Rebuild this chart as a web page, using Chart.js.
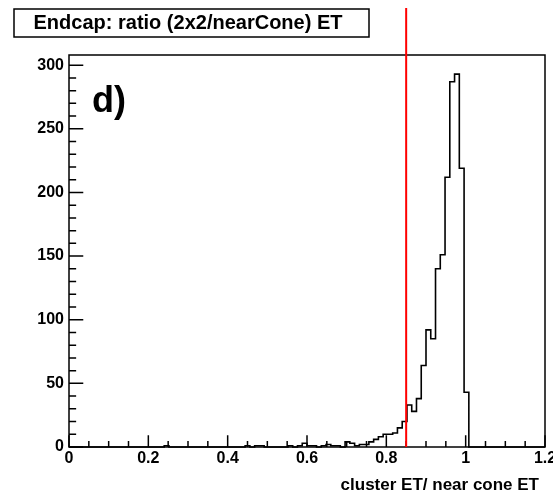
<!DOCTYPE html>
<html>
<head>
<meta charset="utf-8">
<script src="https://cdn.jsdelivr.net/npm/chart.js@4.4.1/dist/chart.umd.min.js"></script>
<style>
  html, body { margin: 0; padding: 0; background: #fff; }
</style>
</head>
<body>
<canvas id="histo" width="553" height="496"></canvas>
<script>
// histogram: 100 bins of 0.012 from 0 to 1.2
const binWidth = 0.012;
const binCounts = [
    0, 0, 0, 0, 0, 0, 0, 0, 0, 0,
    0, 0, 0, 0, 0, 0, 0, 0, 0, 0,
    1, 0, 0, 0, 0, 0, 0, 0, 0, 0,
    0, 0, 0, 0, 0, 0, 0, 1, 0, 1,
    1, 0, 0, 0, 0, 0, 1, 0, 1, 3,
    1, 1, 0, 1, 2, 1, 1, 0, 4, 3,
    1, 2, 2, 4, 6, 8, 10, 10, 11, 15,
    20, 33, 28, 38, 64, 92, 85, 140, 151, 212,
    287, 293, 219, 43, 0, 0, 0, 0, 0, 0,
    0, 0, 0, 0, 0, 0, 0, 0, 0, 0
];
const xMin = 0;
const xMax = 1.2;
const yMax = 308;
const xMajorStep = 0.2;
const xMinorStep = 0.05;
const yMajorStep = 50;
const yMinorStep = 10;
const cutValue = 0.85;
const cutLineTop = 345;
const histTitle = 'Endcap: ratio (2x2/nearCone) ET';
const xTitle = 'cluster ET/ near cone ET';
const panelLabel = 'd)';

const FONT = '"Liberation Sans", Arial, Helvetica, sans-serif';

const points = binCounts.map((c, i) => ({ x: i * binWidth, y: c }));
points.push({ x: binCounts.length * binWidth, y: 0 });

const rootDecor = {
    id: 'rootDecor',
    afterDatasetsDraw(chart) {
        const { ctx, chartArea: a, scales: { x, y } } = chart;
        ctx.save();

        // frame
        ctx.strokeStyle = '#000';
        ctx.lineWidth = 1.5;
        ctx.strokeRect(a.left, a.top, a.right - a.left, a.bottom - a.top);

        // ticks, pointing into the frame
        const xLen = 0.03 * (a.bottom - a.top);
        const yLen = 0.03 * (a.right - a.left);
        ctx.beginPath();
        for (let v = xMin; v <= xMax + 1e-9; v += xMinorStep) {
            const px = x.getPixelForValue(v);
            const major = Math.abs(v / xMajorStep - Math.round(v / xMajorStep)) < 1e-6;
            ctx.moveTo(px, a.bottom);
            ctx.lineTo(px, a.bottom - (major ? xLen : xLen / 2));
        }
        for (let v = 0; v <= yMax; v += yMinorStep) {
            const py = y.getPixelForValue(v);
            const major = v % yMajorStep === 0;
            ctx.moveTo(a.left, py);
            ctx.lineTo(a.left + (major ? yLen : yLen / 2), py);
        }
        ctx.stroke();

        // cut line
        const cx = x.getPixelForValue(cutValue);
        ctx.strokeStyle = '#ff0000';
        ctx.lineWidth = 2;
        ctx.beginPath();
        ctx.moveTo(cx, y.getPixelForValue(0));
        ctx.lineTo(cx, y.getPixelForValue(cutLineTop));
        ctx.stroke();

        // panel label
        ctx.fillStyle = '#000';
        ctx.font = 'bold 36px ' + FONT;
        ctx.textAlign = 'left';
        ctx.textBaseline = 'alphabetic';
        ctx.fillText(panelLabel, 92, 112);

        // axis title
        ctx.font = 'bold 17px ' + FONT;
        ctx.textAlign = 'right';
        ctx.fillText(xTitle, 539, 490);

        // title box
        ctx.fillStyle = '#fff';
        ctx.fillRect(14, 9, 355, 28);
        ctx.strokeStyle = '#000';
        ctx.lineWidth = 1.5;
        ctx.strokeRect(14, 9, 355, 28);
        ctx.fillStyle = '#000';
        ctx.font = 'bold 20px ' + FONT;
        ctx.textAlign = 'center';
        ctx.fillText(histTitle, 188, 29);

        ctx.restore();
    }
};

new Chart(document.getElementById('histo').getContext('2d'), {
    type: 'line',
    data: {
        datasets: [{
            data: points,
            stepped: 'before',
            borderColor: '#000',
            borderWidth: 1.6,
            pointRadius: 0,
            fill: false,
            clip: 4
        }]
    },
    options: {
        responsive: false,
        animation: false,
        devicePixelRatio: 1,
        layout: { padding: { top: 55, right: 8, left: 0, bottom: 0 } },
        plugins: { legend: { display: false }, tooltip: { enabled: false } },
        scales: {
            x: {
                type: 'linear',
                min: xMin,
                max: xMax,
                grid: { display: false, drawTicks: false },
                border: { display: false },
                ticks: {
                    stepSize: xMajorStep,
                    includeBounds: false,
                    padding: 2,
                    color: '#000',
                    font: { family: FONT, size: 16, weight: 'bold' },
                    callback: v => String(+v.toFixed(1))
                },
                afterFit: s => {
                    s.height = 49;
                    s.paddingLeft = 0;
                    s.paddingRight = 0;
                }
            },
            y: {
                type: 'linear',
                min: 0,
                max: yMax,
                grid: { display: false, drawTicks: false },
                border: { display: false },
                ticks: {
                    stepSize: yMajorStep,
                    includeBounds: false,
                    padding: 5,
                    color: '#000',
                    font: { family: FONT, size: 16, weight: 'bold' }
                },
                afterFit: s => {
                    s.width = 69;
                    s.paddingTop = 0;
                    s.paddingBottom = 0;
                }
            }
        }
    },
    plugins: [rootDecor]
});
</script>
</body>
</html>
